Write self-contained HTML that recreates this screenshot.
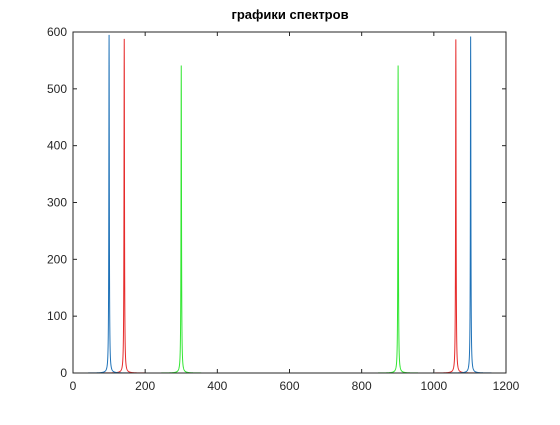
<!DOCTYPE html>
<html><head><meta charset="utf-8"><style>
body{margin:0;background:#fff;}
svg text{font-family:"Liberation Sans","DejaVu Sans",sans-serif;}
</style></head><body>
<svg id="chart" width="560" height="420" xmlns="http://www.w3.org/2000/svg">
<rect width="560" height="420" fill="#fff"/>
<text x="290" y="19" text-anchor="middle" font-size="13" font-weight="bold" fill="#000">графики спектров</text>
<g id="series"></g>
<g id="axes"></g>
</svg>
<script>
const xTicks=[0,200,400,600,800,1000,1200];
const yTicks=[0,100,200,300,400,500,600];
const bluePeaks=[100,1102];
const blueHeights=[595,592];
const redPeaks=[142,1061];
const redHeights=[588,587];
const greenPeaks=[300,901];
const greenHeights=[541,541];

const L=73,R=506,T=32,B=373;
const sx=v=>L+(v/1200)*(R-L);
const sy=v=>B-(v/600)*(B-T);
const ns="http://www.w3.org/2000/svg";
const sg=document.getElementById('series');
const ag=document.getElementById('axes');

function mk(tag,attrs,parent){const e=document.createElementNS(ns,tag);for(const k in attrs)e.setAttribute(k,attrs[k]);parent.appendChild(e);return e;}

function drawSeries(peaks,heights,color,name){
  let d="";const g=0.8;
  for(let x=0;x<=1200;x+=0.25){
    let y=0;
    for(let i=0;i<peaks.length;i++){const dx=x-peaks[i];y+=heights[i]/(1+(dx/g)*(dx/g));}
    d+=(x===0?"M":"L")+sx(x).toFixed(2)+","+sy(y).toFixed(2);
  }
  const p=mk('path',{d:d,fill:'none',stroke:color,'stroke-width':1},sg);
  
  
}
drawSeries(greenPeaks,greenHeights,'#33e633','green-spectrum-line');
drawSeries(redPeaks,redHeights,'#e62a2a','red-spectrum-line');
drawSeries(bluePeaks,blueHeights,'#1f72b8','blue-spectrum-line');

const box=mk('rect',{x:L,y:T,width:R-L,height:B-T,fill:'none',stroke:'#262626','stroke-width':1},ag);


xTicks.forEach(t=>{
  const x=sx(t);
  mk('line',{x1:x,y1:B,x2:x,y2:B-4,stroke:'#262626'},ag);
  mk('line',{x1:x,y1:T,x2:x,y2:T+4,stroke:'#262626'},ag);
  const tx=mk('text',{x:x,y:B+17,'text-anchor':'middle','font-size':12,fill:'#262626'},ag);
  tx.textContent=t;
  
  
});
yTicks.forEach(t=>{
  const y=sy(t);
  mk('line',{x1:L,y1:y,x2:L+4,y2:y,stroke:'#262626'},ag);
  mk('line',{x1:R,y1:y,x2:R-4,y2:y,stroke:'#262626'},ag);
  const ty=mk('text',{x:L-6,y:y+4,'text-anchor':'end','font-size':12,fill:'#262626'},ag);
  ty.textContent=t;
  
  
});
</script>
</body></html>
